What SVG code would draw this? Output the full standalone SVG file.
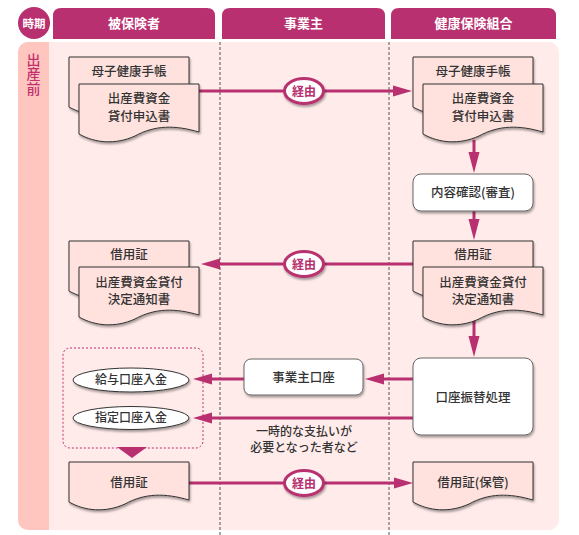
<svg xmlns="http://www.w3.org/2000/svg" xmlns:xlink="http://www.w3.org/1999/xlink" width="579" height="535" viewBox="0 0 579 535">
<style>
text{font-family:"Noto Sans CJK JP","Noto Sans",sans-serif;fill:#333;text-anchor:middle;font-weight:500}
.hdr{fill:#B8306F}
.htx{fill:#fff;font-weight:bold;font-size:13px}
.doc{fill:#FFE1DD;stroke:#333;stroke-width:1;filter:url(#sh)}
.box{fill:#fff;stroke:#666;stroke-width:1;filter:url(#sh)}
.ell{fill:#fff;stroke:#333;stroke-width:1;filter:url(#sh)}
.t{font-size:12.5px}
.ts{font-size:12px}
.ln{stroke:#B8306F;stroke-width:3;fill:none}
.ah{fill:#B8306F}
.via{fill:#fff;stroke:#B8306F;stroke-width:3;filter:url(#sh)}
.viat{fill:#B8306F;font-size:12px;font-weight:bold}
</style>
<defs>
<filter id="sh" x="-20%" y="-20%" width="140%" height="150%">
<feDropShadow dx="1" dy="2" stdDeviation="1.3" flood-color="#000" flood-opacity="0.35"/>
</filter>
<path id="d50" d="M0,0 h120 v48 c-24,-7 -44,-7 -64,4 c-20,9 -40,7 -56,-2 z"/>
<path id="d40" d="M0,0 h120 v38 c-24,-7 -44,-7 -64,4 c-20,9 -40,7 -56,-2 z"/>
</defs>

<g id="header">
<circle cx="34" cy="23" r="16" class="hdr"/>
<text x="34" y="27.5" style="fill:#fff;font-weight:bold;font-size:11.5px">時期</text>
<path class="hdr" d="M53,39 V16 Q53,8 61,8 H207 Q215,8 215,16 V39 Z"/>
<text x="134" y="28" class="htx">被保険者</text>
<path class="hdr" d="M222,39 V16 Q222,8 230,8 H377 Q385,8 385,16 V39 Z"/>
<text x="303.5" y="28" class="htx">事業主</text>
<path class="hdr" d="M391,39 V16 Q391,8 399,8 H548 Q556,8 556,16 V39 Z"/>
<text x="473.5" y="28" class="htx">健康保険組合</text>
</g>

<g id="panel">
<rect x="18" y="42" width="541" height="488" rx="10" fill="#FFEBEA"/>
<path d="M28,42 H49 V530 H28 A10,10 0 0 1 18,520 V52 A10,10 0 0 1 28,42 Z" fill="#FFC6C0"/>
<text x="33.5" y="52.5" style="fill:#C2306F;font-size:14px;writing-mode:vertical-rl;text-anchor:start;letter-spacing:0.5px">出産前</text>
<line x1="220" y1="42" x2="220" y2="535" stroke="#555" stroke-width="1" stroke-dasharray="3,2"/>
<line x1="389" y1="42" x2="389" y2="535" stroke="#555" stroke-width="1" stroke-dasharray="3,2"/>
</g>

<g id="connectors">
<line class="ln" x1="199" y1="91" x2="400" y2="91"/>
<polygon class="ah" points="393,85.5 412,91 393,96.5"/>
<line class="ln" x1="474" y1="140" x2="474" y2="160"/>
<polygon class="ah" points="468.5,152 479.5,152 474,173"/>
<line class="ln" x1="474" y1="211" x2="474" y2="228"/>
<polygon class="ah" points="468.5,219 479.5,219 474,240"/>
<line class="ln" x1="474" y1="320" x2="474" y2="345"/>
<polygon class="ah" points="468.5,336 479.5,336 474,357"/>
<line class="ln" x1="413" y1="264" x2="212" y2="264"/>
<polygon class="ah" points="220,258.5 201,264 220,269.5"/>
<line class="ln" x1="413" y1="379" x2="376" y2="379"/>
<polygon class="ah" points="384,373.5 365,379 384,384.5"/>
<line class="ln" x1="244" y1="379" x2="204" y2="379"/>
<polygon class="ah" points="212,373.5 193,379 212,384.5"/>
<line class="ln" x1="413" y1="418" x2="204" y2="418"/>
<polygon class="ah" points="212,412.5 193,418 212,423.5"/>
<polygon class="ah" points="117,447 147,447 132,458"/>
<line class="ln" x1="189" y1="483" x2="400" y2="483"/>
<polygon class="ah" points="394,477.5 413,483 394,488.5"/>
</g>

<g id="via1"><ellipse class="via" cx="304" cy="91" rx="19.5" ry="12.5"/><text class="viat" x="304" y="95.5">経由</text></g>
<g id="via2"><ellipse class="via" cx="304" cy="264" rx="19.5" ry="12.5"/><text class="viat" x="304" y="268.5">経由</text></g>
<g id="via3"><ellipse class="via" cx="304" cy="483" rx="19.5" ry="12.5"/><text class="viat" x="304" y="487.5">経由</text></g>

<g id="doc-boshi-left"><use href="#d50" x="69" y="57" class="doc"/><text class="t" x="129" y="76">母子健康手帳</text></g>
<g id="doc-moushikomi-left"><use href="#d50" x="79" y="84" class="doc"/><text class="t" x="139" y="103">出産費資金</text><text class="t" x="139" y="121">貸付申込書</text></g>

<g id="doc-boshi-right"><use href="#d50" x="413" y="57" class="doc"/><text class="t" x="473" y="76">母子健康手帳</text></g>
<g id="doc-moushikomi-right"><use href="#d50" x="423" y="84" class="doc"/><text class="t" x="483" y="103">出産費資金</text><text class="t" x="483" y="121">貸付申込書</text></g>

<g id="box-shinsa"><rect class="box" x="413" y="174" width="120" height="37" rx="8"/><text class="t" x="473" y="197">内容確認(審査)</text></g>

<g id="doc-shakuyo-left"><use href="#d50" x="69" y="241" class="doc"/><text class="t" x="129" y="259">借用証</text></g>
<g id="doc-kettei-left"><use href="#d50" x="79" y="267" class="doc"/><text class="t" x="139" y="286.5">出産費資金貸付</text><text class="t" x="139" y="304">決定通知書</text></g>

<g id="doc-shakuyo-right"><use href="#d50" x="413" y="241" class="doc"/><text class="t" x="473" y="259">借用証</text></g>
<g id="doc-kettei-right"><use href="#d50" x="423" y="267" class="doc"/><text class="t" x="483" y="286.5">出産費資金貸付</text><text class="t" x="483" y="304">決定通知書</text></g>

<g id="box-furikae"><rect class="box" x="413" y="358" width="120" height="77" rx="8"/><text class="t" x="473" y="401.5">口座振替処理</text></g>
<g id="box-jigyonushi"><rect class="box" x="244" y="359" width="119" height="36" rx="7"/><text class="t" x="303.5" y="381.5">事業主口座</text></g>

<g id="group-nyukin"><rect x="63" y="348" width="140" height="100" rx="7" fill="none" stroke="#C2306F" stroke-width="1" stroke-dasharray="2,2"/></g>
<g id="ell-kyuyo"><ellipse class="ell" cx="131" cy="380" rx="58" ry="12"/><text class="ts" x="131" y="384">給与口座入金</text></g>
<g id="ell-shitei"><ellipse class="ell" cx="131" cy="418" rx="58" ry="11.5"/><text class="ts" x="131" y="422">指定口座入金</text></g>

<g id="note"><text class="ts" x="304" y="436">一時的な支払いが</text><text class="ts" x="304" y="452">必要となった者など</text></g>

<g id="doc-shakuyo-bottom"><use href="#d40" x="69" y="462" class="doc"/><text class="t" x="129" y="486.5">借用証</text></g>
<g id="doc-hokan"><use href="#d40" x="413" y="462" class="doc"/><text class="t" x="473" y="486.5">借用証(保管)</text></g>
</svg>
